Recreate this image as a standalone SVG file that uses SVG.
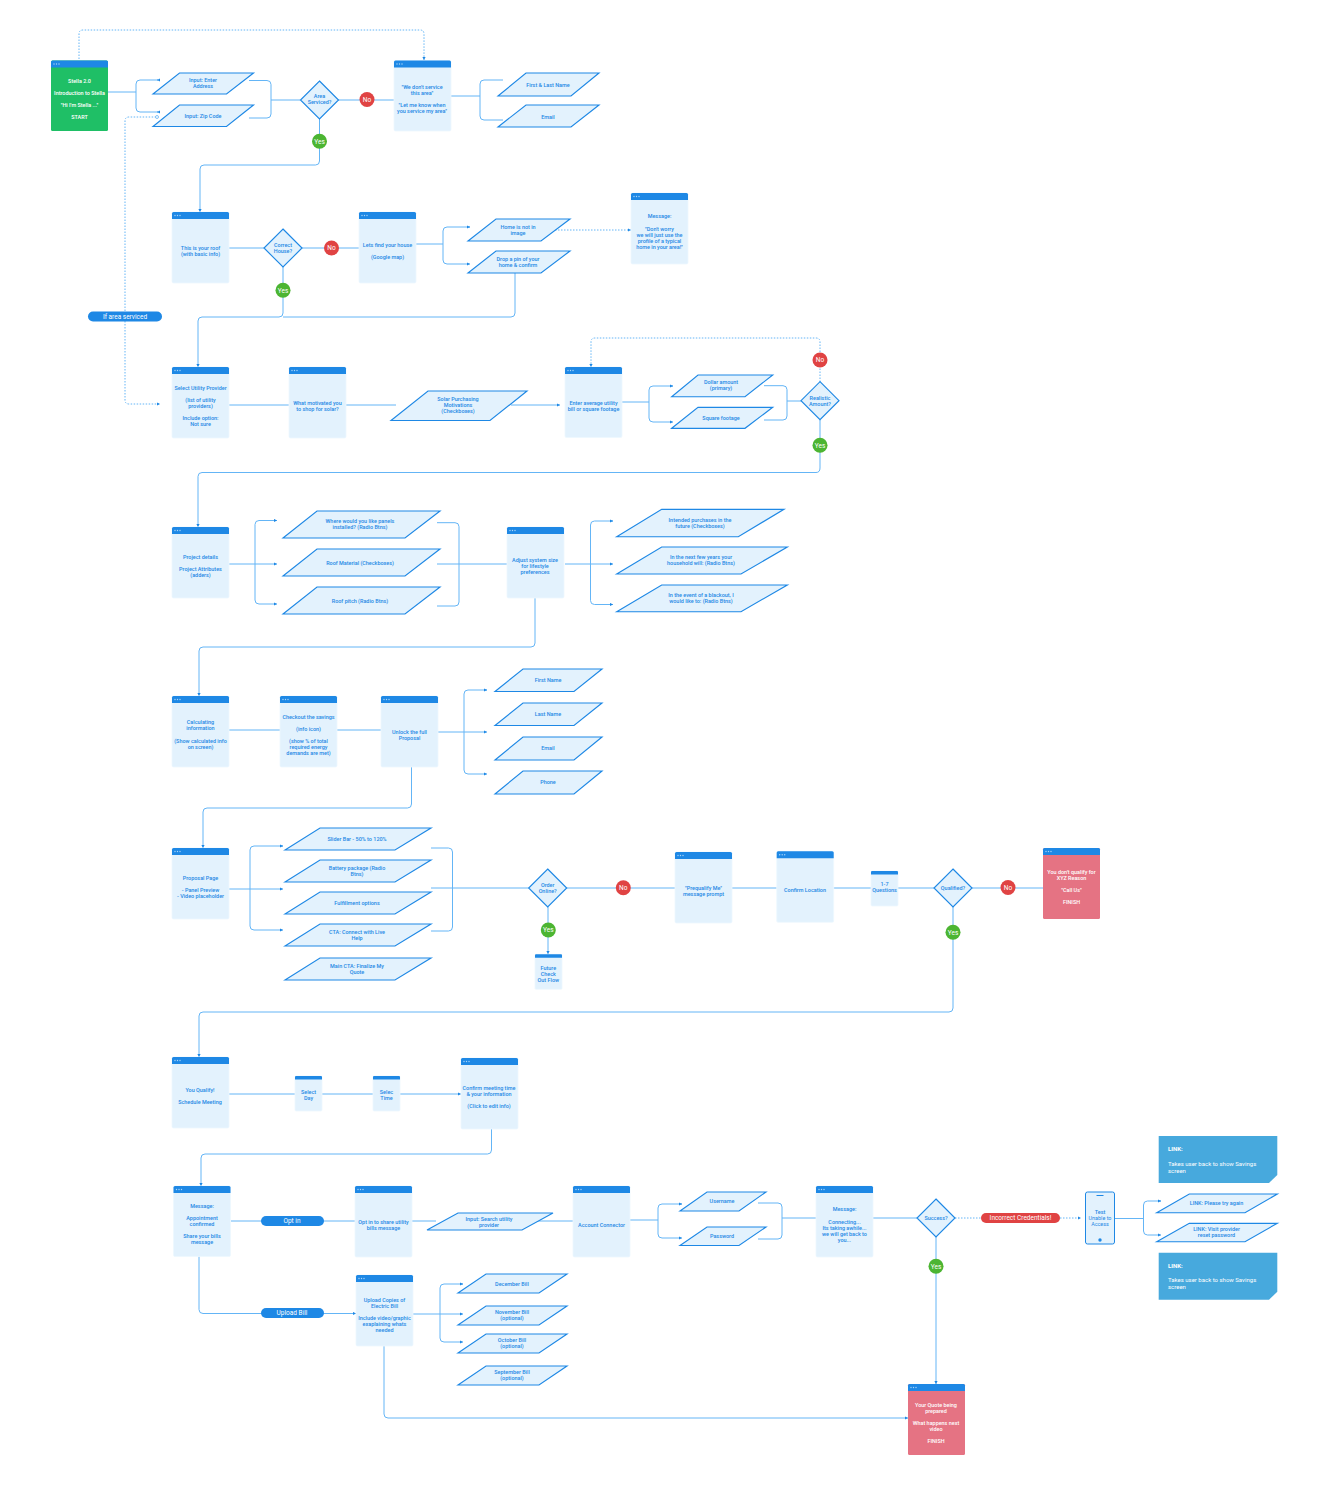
<svg xmlns="http://www.w3.org/2000/svg" width="1319" height="1500" viewBox="0 0 1319 1500">
<style>
text{font-family:Roboto,"Liberation Sans",sans-serif;text-anchor:middle}
.t{font-size:5.45px;font-weight:500;fill:#1e88e5}
.w{font-size:5.45px;font-weight:500;fill:#fff}
.r{font-size:5.45px;font-weight:400;fill:#1e88e5}
.l{font-size:6.5px;font-weight:400;fill:#fff}
.n{font-size:6px;font-weight:400;fill:#fff;text-anchor:start}
.nb{font-size:6px;font-weight:700;fill:#fff;text-anchor:start}
.b{fill:#e3f2fd;stroke:#eef7fe;stroke-width:.8}
.g{fill:#1fbf66}.p{fill:#e57383}
.h{fill:#1e88e5}
.s{fill:#e3f2fd;stroke:#1e88e5;stroke-width:1.15}
.c{fill:none;stroke:#64b5f6;stroke-width:1}
.d{fill:none;stroke:#64b5f6;stroke-width:1;stroke-dasharray:1.5 1.5}
.red{fill:#e04343}.grn{fill:#4cb532}.blu{fill:#1e88e5}.note{fill:#47a9dd}
</style>
<defs>
<marker id="a" markerWidth="4" markerHeight="4" refX="3" refY="2" orient="auto" markerUnits="userSpaceOnUse"><path d="M0 .4L3 2L0 3.6z" fill="#1e88e5"/></marker>
<g id="dots"><circle cx="3" cy="3.5" r=".7" fill="#a9d5f8"/><circle cx="5.5" cy="3.5" r=".7" fill="#a9d5f8"/><circle cx="8" cy="3.5" r=".7" fill="#a9d5f8"/></g>
<path id="hd" class="h" d="M0 7V1.5Q0 0 1.5 0H55.5Q57 0 57 1.5V7z"/>
<path id="hs" class="h" d="M0 3.5V1Q0 0 1 0H26Q27 0 27 1V3.5z"/>
</defs>

<g id="connectors">
<path class="d" d="M79 59V34Q79 30 83 30H420Q424 30 424 34V60" marker-end="url(#a)"/>
<path class="d" d="M125 311V121Q125 117 129 117H156"/>
<circle cx="157" cy="117" r="1.5" fill="#fff" stroke="#64b5f6" stroke-width=".8"/>
<path class="d" d="M125 321V400Q125 404 129 404H160" marker-end="url(#a)"/>
<path class="c" d="M108 92H136"/>
<path class="c" d="M158 80H140Q136 80 136 84V108Q136 112 140 112H158"/>
<path class="c" d="M158 80H157" marker-end="url(#a)"/><path class="c" d="M158 112H157" marker-end="url(#a)"/>
<path class="c" d="M249 80.500H267Q271 80.500 271 84.500V114Q271 118 267 118H249"/>
<path class="c" d="M271 100H300M338 100H394"/>
<path class="c" d="M319.500 119V161Q319.500 165 315.500 165H204Q200 165 200 169V212" marker-end="url(#a)"/>
<path class="c" d="M451 96H480M503 80H484Q480 80 480 84V116Q480 120 484 120H503"/>
<path class="c" d="M229 248H264M302 248H359"/>
<path class="c" d="M283 267V313Q283 317 279 317H202Q198 317 198 321V367" marker-end="url(#a)"/>
<path class="c" d="M515 272V313Q515 317 511 317H283"/>
<path class="c" d="M416 244H443"/>
<path class="c" d="M470 227H447Q443 227 443 231V260Q443 264 447 264H470" marker-end="url(#a)"/>
<path class="c" d="M469 227H470" marker-end="url(#a)"/>
<path class="d" d="M555 230H631" marker-end="url(#a)"/>
<path class="c" d="M229 405H289M346 405H396"/>
<path class="c" d="M511 405H560" marker-end="url(#a)"/>
<path class="c" d="M622 402H649"/>
<path class="c" d="M673 386H653Q649 386 649 390V418Q649 422 653 422H673" marker-end="url(#a)"/>
<path class="c" d="M672 386H673" marker-end="url(#a)"/>
<path class="c" d="M764 385.700H783Q787 385.700 787 389.700V416Q787 420 783 420H764M787 401H801"/>
<path class="d" d="M820 382V342Q820 338 816 338H595Q591 338 591 342V367" marker-end="url(#a)"/>
<path class="c" d="M820 420V468Q820 472.500 816 472.500H202Q198 472.500 198 476.500V527" marker-end="url(#a)"/>
<path class="c" d="M229 564H277" marker-end="url(#a)"/>
<path class="c" d="M277 520.500H259Q255 520.500 255 524.500V600Q255 604 259 604H277" marker-end="url(#a)"/>
<path class="c" d="M276 520.500H277" marker-end="url(#a)"/>
<path class="c" d="M437 522.700H455Q459 522.700 459 526.700V602Q459 606 455 606H437M437 564H507"/>
<path class="c" d="M565 564H613" marker-end="url(#a)"/>
<path class="c" d="M613 521H594.500Q590.500 521 590.500 525V600.500Q590.500 604.500 594.500 604.500H613" marker-end="url(#a)"/>
<path class="c" d="M612 521H613" marker-end="url(#a)"/>
<path class="c" d="M535 598V643Q535 647 531 647H203Q199 647 199 651V696" marker-end="url(#a)"/>
<path class="c" d="M229 730H280M337 730H381"/>
<path class="c" d="M438 732H487" marker-end="url(#a)"/>
<path class="c" d="M487 690H468Q464 690 464 694V770Q464 774 468 774H487" marker-end="url(#a)"/>
<path class="c" d="M486 690H487" marker-end="url(#a)"/>
<path class="c" d="M411.500 767V804Q411.500 808 407.500 808H207Q203 808 203 812V848" marker-end="url(#a)"/>
<path class="c" d="M229 889H283" marker-end="url(#a)"/>
<path class="c" d="M283 846H254Q250 846 250 850V926Q250 930 254 930H283" marker-end="url(#a)"/>
<path class="c" d="M282 846H283" marker-end="url(#a)"/>
<path class="c" d="M431 848H448.500Q452.500 848 452.500 852V927Q452.500 931 448.500 931H431M431 888H529"/>
<path class="c" d="M566.500 888H675M732 888H777M833 888H871M898 888H934M972 888H1043"/>
<path class="c" d="M548 907V954" marker-end="url(#a)"/>
<path class="c" d="M953 907V1008Q953 1012 949 1012H203Q199 1012 199 1016V1057" marker-end="url(#a)"/>
<path class="c" d="M229 1094H295M322 1094H373"/>
<path class="c" d="M400 1094H461" marker-end="url(#a)"/>
<path class="c" d="M491.500 1129V1150Q491.500 1154 487.500 1154H205Q201 1154 201 1158V1186" marker-end="url(#a)"/>
<path class="c" d="M231 1221H355M412 1221H436M530 1221H573"/>
<path class="c" d="M630 1220H658"/>
<path class="c" d="M682 1204H662Q658 1204 658 1208V1234Q658 1238 662 1238H682" marker-end="url(#a)"/>
<path class="c" d="M681 1204H682" marker-end="url(#a)"/>
<path class="c" d="M758 1203H778Q782 1203 782 1207V1235Q782 1239 778 1239H758M782 1218H816"/>
<path class="c" d="M873 1218H917"/>
<path class="d" d="M955 1218H981M1060 1218H1081" marker-end="url(#a)"/>
<path class="c" d="M1115 1218.500H1143.500"/>
<path class="c" d="M1161 1201H1147.500Q1143.500 1201 1143.500 1205V1231Q1143.500 1235 1147.500 1235H1161" marker-end="url(#a)"/>
<path class="c" d="M1160 1201H1161" marker-end="url(#a)"/>
<path class="c" d="M936 1237V1384" marker-end="url(#a)"/>
<path class="c" d="M199 1256V1309.500Q199 1313.500 203 1313.500H356" marker-end="url(#a)"/>
<path class="c" d="M413 1314H463" marker-end="url(#a)"/>
<path class="c" d="M463 1284H444Q440 1284 440 1288V1338Q440 1342 444 1342H463" marker-end="url(#a)"/>
<path class="c" d="M462 1284H463" marker-end="url(#a)"/>
<path class="c" d="M384 1346V1414Q384 1418 388 1418H908" marker-end="url(#a)"/>
</g>

<g id="start"><rect class="g" x="51" y="60.500" width="57" height="70.500" rx="1.500"/><use href="#hd" x="51" y="60.500"/><use href="#dots" x="51" y="60.500"/>
<text class="w" x="79.500" y="82.800">Stella 2.0</text><text class="w" x="79.500" y="94.800">Introduction to Stella</text><text class="w" x="79.500" y="106.800">"Hi I'm Stella ..."</text><text class="w" x="79.500" y="118.800">START</text></g>
<g id="in-address"><polygon class="s" points="153,94 179.500,73 253.500,73 226.500,94"/><text class="t" x="203" y="82.300">Input: Enter</text><text class="t" x="203" y="88.300">Address</text></g>
<g id="in-zip"><polygon class="s" points="153,126.500 179.500,105 253.500,105 226.500,126.500"/><text class="t" x="203" y="117.800">Input: Zip Code</text></g>
<g id="d-area"><polygon class="s" points="319.500,81 338.500,100 319.500,119 300.500,100"/><text class="t" x="319.500" y="97.800">Area</text><text class="t" x="319.500" y="103.800">Serviced?</text></g>
<g id="no1"><circle class="red" cx="367" cy="99.500" r="7.500"/><text class="l" x="367" y="101.800">No</text></g>
<g id="yes1"><circle class="grn" cx="319.500" cy="141.300" r="7.500"/><text class="l" x="319.500" y="143.600">Yes</text></g>
<g id="noservice"><rect class="b" x="394" y="60.500" width="57" height="70.500" rx="1.500"/><use href="#hd" x="394" y="60.500"/><use href="#dots" x="394" y="60.500"/>
<text class="t" x="422" y="88.800">"We don't service</text><text class="t" x="422" y="94.800">this area"</text><text class="t" x="422" y="107.300">"Let me know when</text><text class="t" x="422" y="113.300">you service my area"</text></g>
<g id="in-name"><polygon class="s" points="498,96 526,73 599,73 571,96"/><text class="t" x="548" y="86.800">First &amp; Last Name</text></g>
<g id="in-email"><polygon class="s" points="498,127 526,105 599,105 571,127"/><text class="t" x="548" y="118.800">Email</text></g>
<g id="if-area"><rect class="blu" x="88" y="311.500" width="74" height="10" rx="5"/><text class="l" x="125" y="318.800">If area serviced</text></g>

<g id="roof"><rect class="b" x="172" y="212" width="57" height="71" rx="1.500"/><use href="#hd" x="172" y="212"/><use href="#dots" x="172" y="212"/>
<text class="t" x="200.500" y="249.800">This is your roof</text><text class="t" x="200.500" y="255.800">(with basic info)</text></g>
<g id="d-house"><polygon class="s" points="283,229 302,248 283,267 264,248"/><text class="t" x="283" y="247.300">Correct</text><text class="t" x="283" y="253.300">House?</text></g>
<g id="no2"><circle class="red" cx="331.500" cy="248" r="7.500"/><text class="l" x="331.500" y="250.300">No</text></g>
<g id="yes2"><circle class="grn" cx="283" cy="290.300" r="7.500"/><text class="l" x="283" y="292.600">Yes</text></g>
<g id="findhouse"><rect class="b" x="359" y="212" width="57" height="71" rx="1.500"/><use href="#hd" x="359" y="212"/><use href="#dots" x="359" y="212"/>
<text class="t" x="387.500" y="246.800">Lets find your house</text><text class="t" x="387.500" y="258.800">(Google map)</text></g>
<g id="home-no"><polygon class="s" points="468,241 496,219 570,219 541,241"/><text class="t" x="518" y="228.800">Home is not in</text><text class="t" x="518" y="234.800">image</text></g>
<g id="pin"><polygon class="s" points="468,273 496,251 570,251 541,273"/><text class="t" x="518" y="260.800">Drop a pin of your</text><text class="t" x="518" y="266.800">home &amp; confirm</text></g>
<g id="msg1"><rect class="b" x="631" y="193" width="57" height="71" rx="1.500"/><use href="#hd" x="631" y="193"/><use href="#dots" x="631" y="193"/>
<text class="t" x="659.500" y="218.300">Message:</text><text class="t" x="659.500" y="230.800">"Don't worry</text><text class="t" x="659.500" y="236.800">we will just use the</text><text class="t" x="659.500" y="242.800">profile of a typical</text><text class="t" x="659.500" y="248.800">home in your area!"</text></g>

<g id="utility"><rect class="b" x="172" y="367" width="57" height="71" rx="1.500"/><use href="#hd" x="172" y="367"/><use href="#dots" x="172" y="367"/>
<text class="t" x="200.500" y="389.800">Select Utility Provider</text><text class="t" x="200.500" y="401.800">(list of utility</text><text class="t" x="200.500" y="407.800">providers)</text><text class="t" x="200.500" y="419.800">Include option:</text><text class="t" x="200.500" y="425.800">Not sure</text></g>
<g id="motivated"><rect class="b" x="289" y="367" width="57" height="71" rx="1.500"/><use href="#hd" x="289" y="367"/><use href="#dots" x="289" y="367"/>
<text class="t" x="317.500" y="404.800">What motivated you</text><text class="t" x="317.500" y="410.800">to shop for solar?</text></g>
<g id="solar"><polygon class="s" points="391,420.500 428,391 527,391 490,420.500"/><text class="t" x="458" y="401.300">Solar Purchasing</text><text class="t" x="458" y="407.300">Motivations</text><text class="t" x="458" y="413.300">(Checkboxes)</text></g>
<g id="avgbill"><rect class="b" x="565" y="367" width="57" height="70.500" rx="1.500"/><use href="#hd" x="565" y="367"/><use href="#dots" x="565" y="367"/>
<text class="t" x="593.500" y="404.800">Enter average utility</text><text class="t" x="593.500" y="410.800">bill or square footage</text></g>
<g id="dollar"><polygon class="s" points="671.700,396.700 698,375 772.700,375 745,396.700"/><text class="t" x="721" y="383.800">Dollar amount</text><text class="t" x="721" y="389.800">(primary)</text></g>
<g id="sqft"><polygon class="s" points="671.700,428.300 698,407.300 772.700,407.300 745,428.300"/><text class="t" x="721" y="419.800">Square footage</text></g>
<g id="d-real"><polygon class="s" points="820,381.700 839,400.700 820,419.700 801,400.700"/><text class="t" x="820" y="399.800">Realistic</text><text class="t" x="820" y="405.800">Amount?</text></g>
<g id="no3"><circle class="red" cx="820" cy="360" r="7.500"/><text class="l" x="820" y="362.300">No</text></g>
<g id="yes3"><circle class="grn" cx="820" cy="445.300" r="7.500"/><text class="l" x="820" y="447.600">Yes</text></g>

<g id="project"><rect class="b" x="172" y="527" width="57" height="71" rx="1.500"/><use href="#hd" x="172" y="527"/><use href="#dots" x="172" y="527"/>
<text class="t" x="200.500" y="558.800">Project details</text><text class="t" x="200.500" y="570.800">Project Attributes</text><text class="t" x="200.500" y="576.800">(adders)</text></g>
<g id="panels"><polygon class="s" points="283,538 317,511 440,511 405,538"/><text class="t" x="360" y="522.800">Where would you like panels</text><text class="t" x="360" y="528.800">installed? (Radio Btns)</text></g>
<g id="material"><polygon class="s" points="283,576 317,549 440,549 405,576"/><text class="t" x="360" y="564.800">Roof Material (Checkboxes)</text></g>
<g id="pitch"><polygon class="s" points="283,614 317,587 440,587 405,614"/><text class="t" x="360" y="602.800">Roof pitch (Radio Btns)</text></g>
<g id="adjust"><rect class="b" x="507" y="527" width="57" height="71" rx="1.500"/><use href="#hd" x="507" y="527"/><use href="#dots" x="507" y="527"/>
<text class="t" x="535" y="561.800">Adjust system size</text><text class="t" x="535" y="567.800">for lifestyle</text><text class="t" x="535" y="573.800">preferences</text></g>
<g id="purch"><polygon class="s" points="616.700,536.700 661.700,509.300 784,509.300 738.300,536.700"/><text class="t" x="700" y="521.800">Intended purchases in the</text><text class="t" x="700" y="527.800">future (Checkboxes)</text></g>
<g id="house"><polygon class="s" points="616.700,574 661.700,547 787.300,547 741,574"/><text class="t" x="701" y="559.300">In the next few years your</text><text class="t" x="701" y="565.300">household will: (Radio Btns)</text></g>
<g id="black"><polygon class="s" points="616.700,611.700 661.700,585 787.300,585 741,611.700"/><text class="t" x="701" y="596.800">In the event of a blackout, I</text><text class="t" x="701" y="602.800">would like to: (Radio Btns)</text></g>

<g id="calc"><rect class="b" x="172" y="696" width="57" height="71" rx="1.500"/><use href="#hd" x="172" y="696"/><use href="#dots" x="172" y="696"/>
<text class="t" x="200.500" y="723.800">Calculating</text><text class="t" x="200.500" y="729.800">information</text><text class="t" x="200.500" y="742.800">(Show calculated info</text><text class="t" x="200.500" y="748.800">on screen)</text></g>
<g id="savings"><rect class="b" x="280" y="696" width="57" height="71" rx="1.500"/><use href="#hd" x="280" y="696"/><use href="#dots" x="280" y="696"/>
<text class="t" x="308.500" y="718.800">Checkout the savings</text><text class="t" x="308.500" y="730.800">(info icon)</text><text class="t" x="308.500" y="742.800">(show % of total</text><text class="t" x="308.500" y="748.800">required energy</text><text class="t" x="308.500" y="754.800">demands are met)</text></g>
<g id="unlock"><rect class="b" x="381" y="696" width="57" height="71" rx="1.500"/><use href="#hd" x="381" y="696"/><use href="#dots" x="381" y="696"/>
<text class="t" x="409.500" y="733.800">Unlock the full</text><text class="t" x="409.500" y="739.800">Proposal</text></g>
<g id="f-first"><polygon class="s" points="495,691.500 523,669 602,669 574,691.500"/><text class="t" x="548" y="681.800">First Name</text></g>
<g id="f-last"><polygon class="s" points="495,725.500 523,703 602,703 574,725.500"/><text class="t" x="548" y="715.800">Last Name</text></g>
<g id="f-email"><polygon class="s" points="495,760 523,737 602,737 574,760"/><text class="t" x="548" y="749.800">Email</text></g>
<g id="f-phone"><polygon class="s" points="495,794 523,771 602,771 574,794"/><text class="t" x="548" y="783.800">Phone</text></g>

<g id="proposal"><rect class="b" x="172" y="848" width="57" height="71" rx="1.500"/><use href="#hd" x="172" y="848"/><use href="#dots" x="172" y="848"/>
<text class="t" x="200.500" y="879.800">Proposal Page</text><text class="t" x="200.500" y="891.800">- Panel Preview</text><text class="t" x="200.500" y="897.800">- Video placeholder</text></g>
<g id="slider"><polygon class="s" points="285,850 320,828 431,828 395,850"/><text class="t" x="357" y="840.800">Slider Bar - 50% to 120%</text></g>
<g id="battery"><polygon class="s" points="285,882 320,860 431,860 395,882"/><text class="t" x="357" y="869.800">Battery package (Radio</text><text class="t" x="357" y="875.800">Btns)</text></g>
<g id="fulfil"><polygon class="s" points="285,914 320,892 431,892 395,914"/><text class="t" x="357" y="904.800">Fulfillment options</text></g>
<g id="cta"><polygon class="s" points="285,946 320,924 431,924 395,946"/><text class="t" x="357" y="933.800">CTA: Connect with Live</text><text class="t" x="357" y="939.800">Help</text></g>
<g id="maincta"><polygon class="s" points="285,980 320,958 431,958 395,980"/><text class="t" x="357" y="967.800">Main CTA: Finalize My</text><text class="t" x="357" y="973.800">Quote</text></g>
<g id="d-order"><polygon class="s" points="547.700,869 566.700,888 547.700,907 528.700,888"/><text class="t" x="547.700" y="886.800">Order</text><text class="t" x="547.700" y="892.800">Online?</text></g>
<g id="no4"><circle class="red" cx="623.300" cy="887.700" r="7.500"/><text class="l" x="623.300" y="890">No</text></g>
<g id="yes4"><circle class="grn" cx="548.300" cy="930" r="7.500"/><text class="l" x="548.300" y="932.300">Yes</text></g>
<g id="future"><rect class="b" x="535" y="954.300" width="27" height="35" rx="1"/><use href="#hs" x="535" y="954.300"/>
<text class="t" x="548.300" y="969.800">Future</text><text class="t" x="548.300" y="975.800">Check</text><text class="t" x="548.300" y="981.800">Out Flow</text></g>
<g id="prequal"><rect class="b" x="675" y="852" width="57" height="71" rx="1.500"/><use href="#hd" x="675" y="852"/><use href="#dots" x="675" y="852"/>
<text class="t" x="703.500" y="889.800">"Prequalify Me"</text><text class="t" x="703.500" y="895.800">message prompt</text></g>
<g id="confirmloc"><rect class="b" x="776.700" y="851.300" width="57" height="71" rx="1.500"/><use href="#hd" x="776.700" y="851.300"/><use href="#dots" x="776.700" y="851.300"/>
<text class="t" x="805" y="891.800">Confirm Location</text></g>
<g id="questions"><rect class="b" x="871" y="871" width="27" height="35" rx="1"/><use href="#hs" x="871" y="871"/>
<text class="t" x="884.500" y="885.800">1-7</text><text class="t" x="884.500" y="891.800">Questions</text></g>
<g id="d-qual"><polygon class="s" points="953,869 972,888 953,907 934,888"/><text class="t" x="953" y="889.800">Qualified?</text></g>
<g id="no5"><circle class="red" cx="1008" cy="887.500" r="7.500"/><text class="l" x="1008" y="889.800">No</text></g>
<g id="yes5"><circle class="grn" cx="953" cy="932.300" r="7.500"/><text class="l" x="953" y="934.600">Yes</text></g>
<g id="noqual"><rect class="p" x="1043" y="848" width="57" height="71" rx="1.500"/><use href="#hd" x="1043" y="848"/><use href="#dots" x="1043" y="848"/>
<text class="w" x="1071.500" y="873.800">You don't qualify for</text><text class="w" x="1071.500" y="879.800">XYZ Reason</text><text class="w" x="1071.500" y="891.800">"Call Us"</text><text class="w" x="1071.500" y="903.800">FINISH</text></g>

<g id="youqualify"><rect class="b" x="172" y="1057" width="57" height="71" rx="1.500"/><use href="#hd" x="172" y="1057"/><use href="#dots" x="172" y="1057"/>
<text class="t" x="200" y="1091.800">You Qualify!</text><text class="t" x="200" y="1103.800">Schedule Meeting</text></g>
<g id="selday"><rect class="b" x="295" y="1076" width="27" height="35" rx="1"/><use href="#hs" x="295" y="1076"/>
<text class="t" x="308.500" y="1093.800">Select</text><text class="t" x="308.500" y="1099.800">Day</text></g>
<g id="seltime"><rect class="b" x="373" y="1076" width="27" height="35" rx="1"/><use href="#hs" x="373" y="1076"/>
<text class="t" x="386.500" y="1093.800">Selec</text><text class="t" x="386.500" y="1099.800">Time</text></g>
<g id="confirmmeet"><rect class="b" x="461" y="1058" width="57" height="71" rx="1.500"/><use href="#hd" x="461" y="1058"/><use href="#dots" x="461" y="1058"/>
<text class="t" x="489" y="1089.800">Confirm meeting time</text><text class="t" x="489" y="1095.800">&amp; your information</text><text class="t" x="489" y="1107.800">(Click to edit info)</text></g>

<g id="appt"><rect class="b" x="173.500" y="1186" width="57" height="70.500" rx="1.500"/><use href="#hd" x="173.500" y="1186"/><use href="#dots" x="173.500" y="1186"/>
<text class="t" x="202" y="1207.800">Message:</text><text class="t" x="202" y="1219.800">Appointment</text><text class="t" x="202" y="1225.800">confirmed</text><text class="t" x="202" y="1237.800">Share your bills</text><text class="t" x="202" y="1243.800">message</text></g>
<g id="optin"><rect class="blu" x="261" y="1216" width="63" height="10" rx="5"/><text class="l" x="292" y="1223.300">Opt in</text></g>
<g id="share"><rect class="b" x="355" y="1186" width="57" height="71" rx="1.500"/><use href="#hd" x="355" y="1186"/><use href="#dots" x="355" y="1186"/>
<text class="t" x="383.500" y="1223.800">Opt in to share utility</text><text class="t" x="383.500" y="1229.800">bills message</text></g>
<g id="search"><polygon class="s" points="427,1230 458,1213 553,1213 522,1230"/><text class="t" x="489" y="1220.800">Input: Search utility</text><text class="t" x="489" y="1226.800">provider</text></g>
<g id="account"><rect class="b" x="573" y="1186" width="57" height="71" rx="1.500"/><use href="#hd" x="573" y="1186"/><use href="#dots" x="573" y="1186"/>
<text class="t" x="601.500" y="1226.800">Account Connector</text></g>
<g id="user"><polygon class="s" points="680,1211 707,1192 766,1192 739,1211"/><text class="t" x="722" y="1203.300">Username</text></g>
<g id="pass"><polygon class="s" points="680,1245.500 707,1227 766,1227 739,1245.500"/><text class="t" x="722" y="1237.800">Password</text></g>
<g id="connecting"><rect class="b" x="816" y="1186" width="57" height="71" rx="1.500"/><use href="#hd" x="816" y="1186"/><use href="#dots" x="816" y="1186"/>
<text class="t" x="844.500" y="1211.300">Message:</text><text class="t" x="844.500" y="1223.800">Connecting...</text><text class="t" x="844.500" y="1229.800">Its taking awhile...</text><text class="t" x="844.500" y="1235.800">we will get back to</text><text class="t" x="844.500" y="1241.800">you...</text></g>
<g id="d-success"><polygon class="s" points="936,1199 955,1218 936,1237 917,1218"/><text class="t" x="936" y="1219.800">Success?</text></g>
<g id="incorrect"><rect class="red" x="981" y="1213" width="79" height="10" rx="5"/><text class="l" x="1020.500" y="1220.300">Incorrect Credentials!</text></g>
<g id="yes6"><circle class="grn" cx="936" cy="1266.300" r="7.500"/><text class="l" x="936" y="1268.600">Yes</text></g>
<g id="phone"><rect x="1085.500" y="1192" width="29" height="52" rx="2" fill="#e3f2fd" stroke="#1e88e5" stroke-width="1"/><rect x="1096.500" y="1195" width="7" height="1" fill="#1e88e5"/><circle cx="1100" cy="1240" r="1.700" fill="#1e88e5"/>
<text class="t" x="1100" y="1213.800">Test</text><text class="r" x="1100" y="1219.800">Unable to</text><text class="r" x="1100" y="1225.800">Access</text></g>
<g id="note1"><path class="note" d="M1158.700 1136H1277.300V1175L1269 1183H1158.700z"/><text class="nb" x="1168" y="1151">LINK:</text><text class="n" x="1168" y="1165.500">Takes user back to show Savings</text><text class="n" x="1168" y="1172.500">screen</text></g>
<g id="tryagain"><polygon class="s" points="1156.700,1212.700 1189.300,1194 1277.300,1194 1245,1212.700"/><text class="t" x="1216.500" y="1205.300">LINK: Please try again</text></g>
<g id="reset"><polygon class="s" points="1156.700,1241.700 1189.300,1223.300 1277.300,1223.300 1245,1241.700"/><text class="t" x="1216.500" y="1230.800">LINK: Visit provider</text><text class="t" x="1216.500" y="1236.800">reset password</text></g>
<g id="note2"><path class="note" d="M1158.700 1252.700H1277.300V1291.700L1269 1299.700H1158.700z"/><text class="nb" x="1168" y="1267.500">LINK:</text><text class="n" x="1168" y="1282">Takes user back to show Savings</text><text class="n" x="1168" y="1289">screen</text></g>

<g id="uploadpill"><rect class="blu" x="261" y="1308" width="63" height="10" rx="5"/><text class="l" x="292" y="1315.300">Upload Bill</text></g>
<g id="upload"><rect class="b" x="356" y="1275" width="57" height="71" rx="1.500"/><use href="#hd" x="356" y="1275"/><use href="#dots" x="356" y="1275"/>
<text class="t" x="384.500" y="1301.800">Upload Copies of</text><text class="t" x="384.500" y="1307.800">Electric Bill</text><text class="t" x="384.500" y="1319.800">Include video/graphic</text><text class="t" x="384.500" y="1325.800">exaplaining whats</text><text class="t" x="384.500" y="1331.800">needed</text></g>
<g id="dec"><polygon class="s" points="458,1293 486,1274 567,1274 539,1293"/><text class="t" x="512" y="1285.800">December Bill</text></g>
<g id="nov"><polygon class="s" points="458,1325 486,1306 567,1306 539,1325"/><text class="t" x="512" y="1313.800">November Bill</text><text class="t" x="512" y="1319.800">(optional)</text></g>
<g id="oct"><polygon class="s" points="458,1353 486,1334 567,1334 539,1353"/><text class="t" x="512" y="1341.800">October Bill</text><text class="t" x="512" y="1347.800">(optional)</text></g>
<g id="sep"><polygon class="s" points="458,1385 486,1366 567,1366 539,1385"/><text class="t" x="512" y="1373.800">September Bill</text><text class="t" x="512" y="1379.800">(optional)</text></g>
<g id="quote"><rect class="p" x="908" y="1384" width="57" height="71" rx="1.500"/><use href="#hd" x="908" y="1384"/><use href="#dots" x="908" y="1384"/>
<text class="w" x="936" y="1406.800">Your Quote being</text><text class="w" x="936" y="1412.800">prepared</text><text class="w" x="936" y="1424.800">What happens next</text><text class="w" x="936" y="1430.800">video</text><text class="w" x="936" y="1442.800">FINISH</text></g>
</svg>
